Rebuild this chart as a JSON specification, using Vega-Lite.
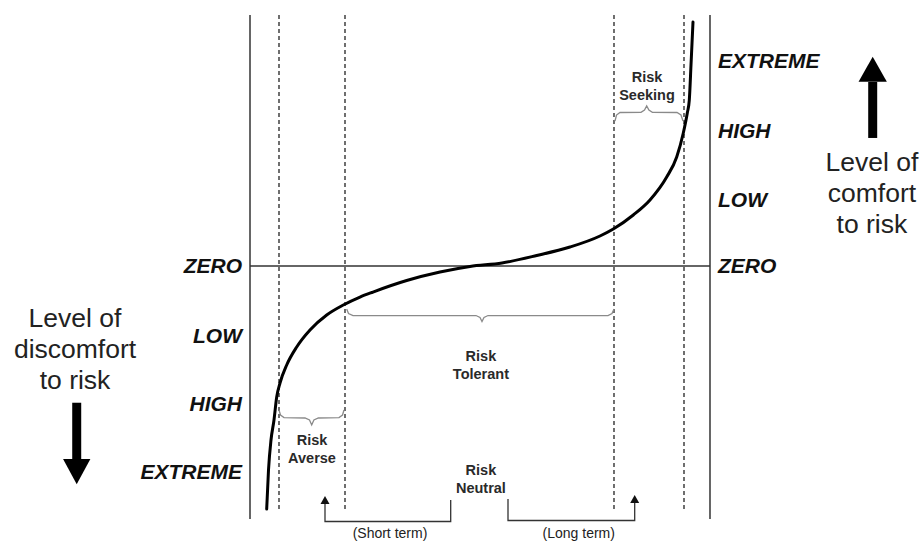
{
  "$schema": "https://vega.github.io/schema/vega-lite/v6.json",
  "width": 924,
  "height": 542,
  "padding": 0,
  "autosize": {"type": "none"},
  "background": "white",
  "config": {"view": {"stroke": null}},
  "datasets": {
    "frame": [
      {"x": 0, "y": 3.664, "y2": -3.693},
      {"x": 100, "y": 3.664, "y2": -3.693}
    ],
    "zero": [{"x": 0, "x2": 100, "y": 0}],
    "dashed": [
      {"x": 6.304, "y": 3.664, "y2": -3.577},
      {"x": 20.652, "y": 3.664, "y2": -3.577},
      {"x": 79.130, "y": 3.664, "y2": -3.577},
      {"x": 94.348, "y": 3.664, "y2": -3.577}
    ],
    "curve": [
      {"x": 3.630, "y": -3.547},
      {"x": 4.022, "y": -2.978},
      {"x": 4.565, "y": -2.540},
      {"x": 5.217, "y": -2.248},
      {"x": 5.804, "y": -1.912},
      {"x": 6.522, "y": -1.708},
      {"x": 7.978, "y": -1.445},
      {"x": 10.152, "y": -1.182},
      {"x": 13.043, "y": -0.934},
      {"x": 16.674, "y": -0.715},
      {"x": 20.283, "y": -0.569},
      {"x": 23.913, "y": -0.453},
      {"x": 26.739, "y": -0.380},
      {"x": 34.065, "y": -0.212},
      {"x": 41.304, "y": -0.088},
      {"x": 47.826, "y": -0.007},
      {"x": 54.783, "y": 0.044},
      {"x": 62.326, "y": 0.153},
      {"x": 69.565, "y": 0.277},
      {"x": 76.087, "y": 0.438},
      {"x": 78.978, "y": 0.540},
      {"x": 83.326, "y": 0.745},
      {"x": 86.957, "y": 0.964},
      {"x": 90.587, "y": 1.299},
      {"x": 92.761, "y": 1.591},
      {"x": 94.196, "y": 1.942},
      {"x": 95.065, "y": 2.234},
      {"x": 95.500, "y": 2.423},
      {"x": 95.870, "y": 2.934},
      {"x": 96.304, "y": 3.562}
    ],
    "braces": [
      {"id": "averse", "i": 0, "x": 6.304, "y": -2.102},
      {"id": "averse", "i": 1, "x": 6.630, "y": -2.175},
      {"id": "averse", "i": 2, "x": 7.391, "y": -2.212},
      {"id": "averse", "i": 3, "x": 11.957, "y": -2.219},
      {"id": "averse", "i": 4, "x": 12.935, "y": -2.248},
      {"id": "averse", "i": 5, "x": 13.413, "y": -2.321},
      {"id": "averse", "i": 6, "x": 13.891, "y": -2.248},
      {"id": "averse", "i": 7, "x": 14.870, "y": -2.219},
      {"id": "averse", "i": 8, "x": 19.348, "y": -2.212},
      {"id": "averse", "i": 9, "x": 20.109, "y": -2.175},
      {"id": "averse", "i": 10, "x": 20.435, "y": -2.102},
      {"id": "tolerant", "i": 0, "x": 21.022, "y": -0.628},
      {"id": "tolerant", "i": 1, "x": 21.413, "y": -0.693},
      {"id": "tolerant", "i": 2, "x": 22.391, "y": -0.723},
      {"id": "tolerant", "i": 3, "x": 49.130, "y": -0.723},
      {"id": "tolerant", "i": 4, "x": 50.0, "y": -0.752},
      {"id": "tolerant", "i": 5, "x": 50.435, "y": -0.810},
      {"id": "tolerant", "i": 6, "x": 50.870, "y": -0.752},
      {"id": "tolerant", "i": 7, "x": 51.739, "y": -0.723},
      {"id": "tolerant", "i": 8, "x": 77.826, "y": -0.723},
      {"id": "tolerant", "i": 9, "x": 78.696, "y": -0.693},
      {"id": "tolerant", "i": 10, "x": 79.130, "y": -0.628},
      {"id": "seeking", "i": 0, "x": 79.348, "y": 2.117},
      {"id": "seeking", "i": 1, "x": 79.674, "y": 2.204},
      {"id": "seeking", "i": 2, "x": 80.435, "y": 2.241},
      {"id": "seeking", "i": 3, "x": 85.0, "y": 2.244},
      {"id": "seeking", "i": 4, "x": 85.761, "y": 2.277},
      {"id": "seeking", "i": 5, "x": 86.239, "y": 2.336},
      {"id": "seeking", "i": 6, "x": 86.717, "y": 2.277},
      {"id": "seeking", "i": 7, "x": 87.478, "y": 2.244},
      {"id": "seeking", "i": 8, "x": 92.826, "y": 2.241},
      {"id": "seeking", "i": 9, "x": 93.696, "y": 2.204},
      {"id": "seeking", "i": 10, "x": 94.130, "y": 2.117}
    ],
    "brackets": [
      {"id": "short", "i": 0, "x": 16.304, "y": -3.460},
      {"id": "short", "i": 1, "x": 16.304, "y": -3.730},
      {"id": "short", "i": 2, "x": 43.630, "y": -3.730},
      {"id": "short", "i": 3, "x": 43.630, "y": -3.416},
      {"id": "long", "i": 0, "x": 56.087, "y": -3.401},
      {"id": "long", "i": 1, "x": 56.087, "y": -3.715},
      {"id": "long", "i": 2, "x": 83.630, "y": -3.715},
      {"id": "long", "i": 3, "x": 83.630, "y": -3.460}
    ],
    "smallHeads": [
      {"x": 16.304, "y": -3.423},
      {"x": 83.630, "y": -3.409}
    ],
    "shafts": [
      {"x": 135.37, "y": 2.686, "y2": 1.869},
      {"x": -37.67, "y": -1.996, "y2": -2.818}
    ],
    "upHead": [{"x": 135.37, "y": 2.849}],
    "downHead": [{"x": -37.67, "y": -2.988}],
    "levelsLeft": [
      {"x": -1.739, "y": 0, "label": "ZERO"},
      {"x": -1.739, "y": -1.02, "label": "LOW"},
      {"x": -1.739, "y": -2.01, "label": "HIGH"},
      {"x": -1.739, "y": -3.01, "label": "EXTREME"}
    ],
    "levelsRight": [
      {"x": 101.74, "y": 0, "label": "ZERO"},
      {"x": 101.74, "y": 0.96, "label": "LOW"},
      {"x": 101.74, "y": 1.97, "label": "HIGH"},
      {"x": 101.74, "y": 2.99, "label": "EXTREME"}
    ],
    "zones": [
      {"x": 86.30, "y": 2.63, "label": "Risk\nSeeking"},
      {"x": 50.2, "y": -1.445, "label": "Risk\nTolerant"},
      {"x": 13.48, "y": -2.67, "label": "Risk\nAverse"},
      {"x": 50.2, "y": -3.114, "label": "Risk\nNeutral"}
    ],
    "terms": [
      {"x": 30.43, "y": -3.915, "label": "(Short term)"},
      {"x": 71.46, "y": -3.915, "label": "(Long term)"}
    ],
    "sides": [
      {"x": 135.2, "y": 1.066, "label": "Level of\ncomfort\nto risk"},
      {"x": -38.04, "y": -1.207, "label": "Level of\ndiscomfort\nto risk"}
    ]
  },
  "encoding": {
    "x": {"field": "x", "type": "quantitative", "scale": {"domain": [-54.348, 146.522], "nice": false, "zero": false}, "axis": null},
    "y": {"field": "y", "type": "quantitative", "scale": {"domain": [-4.029, 3.883], "nice": false, "zero": false}, "axis": null}
  },
  "layer": [
    {
      "data": {"name": "dashed"},
      "mark": {"type": "rule", "color": "#222", "strokeWidth": 1.3, "strokeDash": [4, 3]},
      "encoding": {"y2": {"field": "y2"}}
    },
    {
      "data": {"name": "frame"},
      "mark": {"type": "rule", "color": "#333", "strokeWidth": 1.5},
      "encoding": {"y2": {"field": "y2"}}
    },
    {
      "data": {"name": "zero"},
      "mark": {"type": "rule", "color": "#333", "strokeWidth": 1.5},
      "encoding": {"x2": {"field": "x2"}}
    },
    {
      "data": {"name": "braces"},
      "mark": {"type": "line", "color": "#8a8a8a", "strokeWidth": 1.3},
      "encoding": {"detail": {"field": "id"}, "order": {"field": "i", "type": "quantitative"}}
    },
    {
      "data": {"name": "brackets"},
      "mark": {"type": "line", "color": "#333", "strokeWidth": 1.3},
      "encoding": {"detail": {"field": "id"}, "order": {"field": "i", "type": "quantitative"}}
    },
    {
      "data": {"name": "smallHeads"},
      "mark": {"type": "point", "shape": "M0,-1L1,0.78L-1,0.78Z", "size": 81, "filled": true, "color": "#111", "opacity": 1}
    },
    {
      "data": {"name": "curve"},
      "mark": {"type": "line", "color": "#000", "strokeWidth": 3, "interpolate": "monotone", "strokeCap": "round"},
      "encoding": {}
    },
    {
      "data": {"name": "shafts"},
      "mark": {"type": "rule", "color": "#000", "strokeWidth": 9},
      "encoding": {"y2": {"field": "y2"}}
    },
    {
      "data": {"name": "upHead"},
      "mark": {"type": "point", "shape": "M0,-1L1,0.767L-1,0.767Z", "size": 801, "filled": true, "color": "#000", "opacity": 1}
    },
    {
      "data": {"name": "downHead"},
      "mark": {"type": "point", "shape": "M0,1L1,-0.85L-1,-0.85Z", "size": 745, "filled": true, "color": "#000", "opacity": 1}
    },
    {
      "data": {"name": "levelsLeft"},
      "mark": {"type": "text", "align": "right", "baseline": "middle", "dy": 1, "font": "Liberation Sans", "fontSize": 21, "fontWeight": "bold", "fontStyle": "italic", "color": "#111"},
      "encoding": {"text": {"field": "label"}}
    },
    {
      "data": {"name": "levelsRight"},
      "mark": {"type": "text", "align": "left", "baseline": "middle", "dy": 1, "font": "Liberation Sans", "fontSize": 21, "fontWeight": "bold", "fontStyle": "italic", "color": "#111"},
      "encoding": {"text": {"field": "label"}}
    },
    {
      "data": {"name": "zones"},
      "mark": {"type": "text", "align": "center", "baseline": "middle", "dy": -8, "font": "Liberation Sans", "fontSize": 14.5, "fontWeight": "bold", "color": "#2a2a2a", "lineBreak": "\n", "lineHeight": 18},
      "encoding": {"text": {"field": "label"}}
    },
    {
      "data": {"name": "terms"},
      "mark": {"type": "text", "align": "center", "baseline": "middle", "font": "Liberation Sans", "fontSize": 14, "color": "#222"},
      "encoding": {"text": {"field": "label"}}
    },
    {
      "data": {"name": "sides"},
      "mark": {"type": "text", "align": "center", "baseline": "middle", "dy": -30, "font": "Liberation Sans", "fontSize": 26.5, "color": "#222", "lineBreak": "\n", "lineHeight": 31},
      "encoding": {"text": {"field": "label"}}
    }
  ]
}
